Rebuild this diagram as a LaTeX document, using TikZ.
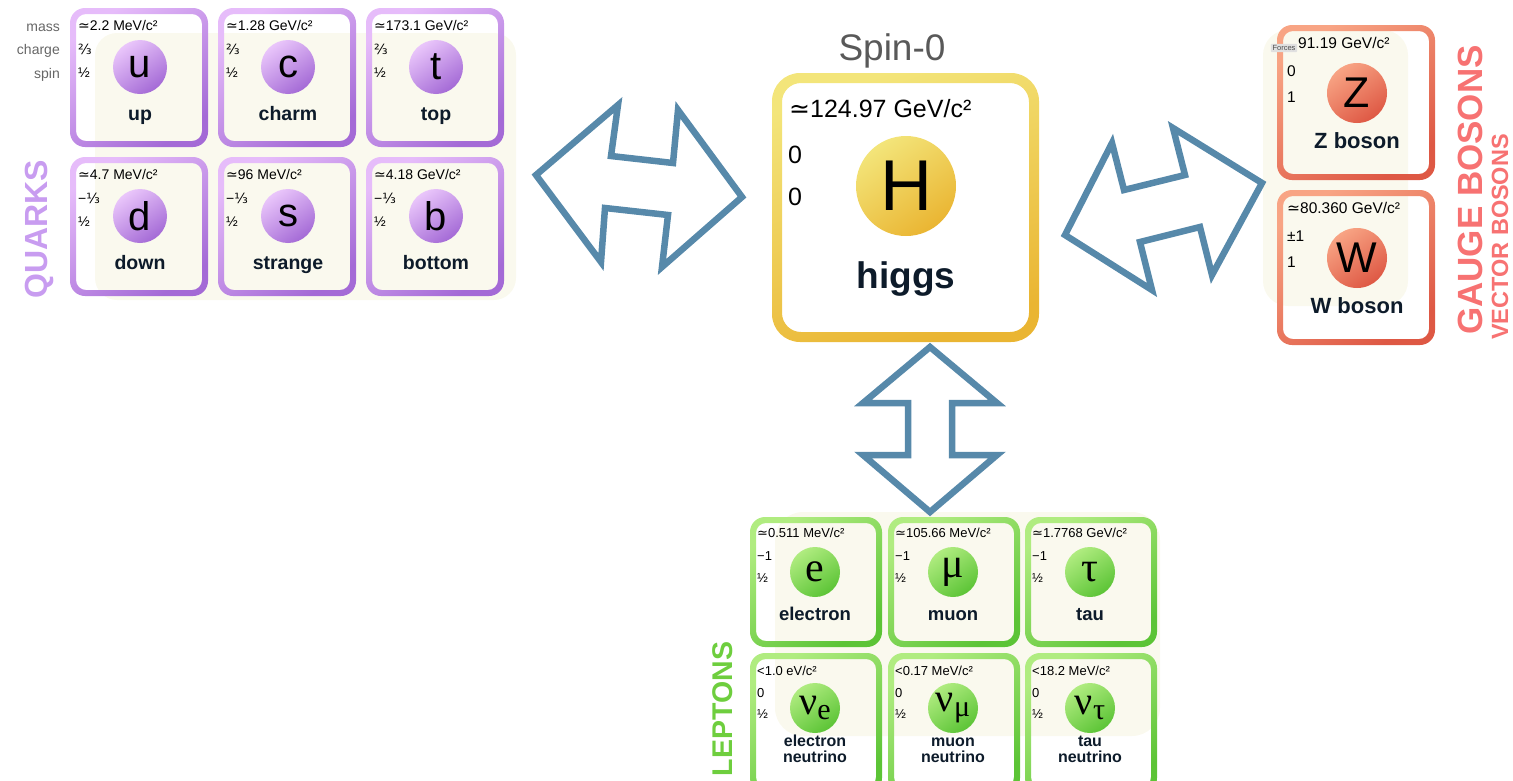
\documentclass[tikz,border=0pt]{standalone}
\usepackage{fontspec}
\setmainfont{Liberation Sans}
\newfontfamily\grk{Liberation Serif}
\newfontfamily\djv{DejaVu Sans}
\newcommand\fsz[1]{\fontsize{#1}{#1}\selectfont}
\newcommand\approxs{{\djv ≃}}
\newcommand\twothirds{{\djv ⅔}}
\newcommand\onethird{{\djv ⅓}}

\definecolor{ink}{HTML}{0D1B2A}
\definecolor{cream}{HTML}{FAF9EE}
\definecolor{qA}{HTML}{E6BCFA}\definecolor{qB}{HTML}{A46AD6}
\definecolor{qtxt}{HTML}{C89CF0}
\definecolor{hA}{HTML}{F3E57A}\definecolor{hB}{HTML}{EAB532}
\definecolor{gA}{HTML}{F8A484}\definecolor{gB}{HTML}{DE5844}
\definecolor{gtxt}{HTML}{F77272}
\definecolor{lA}{HTML}{B0EC80}\definecolor{lB}{HTML}{5CC436}
\definecolor{ltxt}{HTML}{6ECE3E}
\definecolor{arrowblue}{HTML}{5789AA}
\definecolor{lbl}{HTML}{666666}

\tikzset{
  qring/.style={even odd rule, top color=qA, bottom color=qB, shading angle=35},
  hring/.style={even odd rule, top color=hA, bottom color=hB, shading angle=20},
  gring/.style={even odd rule, top color=gA, bottom color=gB, shading angle=35},
  lring/.style={even odd rule, top color=lA, bottom color=lB, shading angle=35},
  qball/.style={top color=qA!85!white, bottom color=qB, shading angle=35},
  hball/.style={top color=hA, bottom color=hB, shading angle=35},
  gball/.style={top color=gA, bottom color=gB, shading angle=35},
  lball/.style={top color=lA, bottom color=lB, shading angle=35},
  prop/.style={anchor=base west, inner sep=0, text=black},
  qprop/.style={prop, font=\fsz{14}},
  lprop/.style={prop, font=\fsz{13}},
  qsym/.style={inner sep=0, font=\fsz{40}},
  lsym/.style={inner sep=0, font=\grk\fsz{42}},
  pname/.style={anchor=base, inner sep=0, text=ink, font=\bfseries\fsz{19.5}},
  rowlbl/.style={anchor=base east, inner sep=0, text=lbl, font=\fsz{14}},
  bigarrow/.style={draw=arrowblue, line width=6.5pt, fill=white, line join=miter},
  grouplbl/.style={rotate=90, inner sep=0, font=\bfseries},
}

% quark card: name, x0, y0, mass, charge, spin, symbol, label
\newcommand\qcard[8]{%
  \shade[qring] (#2,#3) [rounded corners=15pt] rectangle ++(138,139)
        ({#2+6},{#3+6}) [rounded corners=10pt] rectangle ++(126,127);
  \shade[qball] ({#2+70},{#3+59}) circle (27pt);
  \node[qsym] (#1sym) at ({#2+70},{#3+59}) {#7};
  \node[qprop] (#1mass) at ({#2+8},{#3+22}) {#4};
  \node[qprop] (#1chg) at ({#2+8},{#3+46}) {#5};
  \node[qprop] (#1spin) at ({#2+8},{#3+69}) {#6};
  \node[pname] (#1name) at ({#2+70},{#3+112}) {#8};
}

% charged lepton card: name, x0, y0, mass, charge, spin, symbol, label
\newcommand\lcard[8]{%
  \shade[lring] (#2,#3) [rounded corners=15pt] rectangle ++(132,130)
        ({#2+6},{#3+6}) [rounded corners=10pt] rectangle ++(120,118);
  \shade[lball] ({#2+65},{#3+55}) circle (25pt);
  \node[lsym] (#1sym) at ({#2+65},{#3+55}) {#7};
  \node[lprop] (#1mass) at ({#2+7},{#3+20}) {#4};
  \node[lprop] (#1chg) at ({#2+7},{#3+43}) {#5};
  \node[lprop] (#1spin) at ({#2+7},{#3+65}) {#6};
  \node[pname, font=\bfseries\fsz{18.5}] (#1name) at ({#2+65},{#3+103}) {#8};
}

% neutrino card: name, x0, y0, mass, subscript, first label line, second label line
\newcommand\ncard[7]{%
  \shade[lring] (#2,#3) [rounded corners=15pt] rectangle ++(132,140)
        ({#2+6},{#3+6}) [rounded corners=10pt] rectangle ++(120,128);
  \shade[lball] ({#2+65},{#3+55}) circle (25pt);
  \node[lsym, font=\grk\fsz{40}] (#1sym) at ({#2+65},{#3+55}) {ν\raisebox{-5pt}{\fsz{30}#5}};
  \node[lprop] (#1mass) at ({#2+7},{#3+22}) {#4};
  \node[lprop] (#1chg) at ({#2+7},{#3+44}) {0};
  \node[lprop] (#1spin) at ({#2+7},{#3+65}) {½};
  \node[pname, font=\bfseries\fsz{16}] (#1nameA) at ({#2+65},{#3+93}) {#6};
  \node[pname, font=\bfseries\fsz{16}] (#1nameB) at ({#2+65},{#3+109}) {#7};
}

% gauge boson card: name, y0, mass x, mass, charge, symbol, label
\newcommand\gcard[7]{%
  \shade[gring] (1277,#2) [rounded corners=15pt] rectangle ++(158,155)
        (1283,{#2+6}) [rounded corners=10pt] rectangle ++(146,143);
  \shade[gball] (1357,{#2+68}) circle (30pt);
  \node[qsym, font=\fsz{43}] (#1sym) at (1357,{#2+68}) {#6};
  \node[prop, font=\fsz{15.5}] (#1mass) at (#3,{#2+23}) {#4};
  \node[prop, font=\fsz{15.5}] (#1chg) at (1287,{#2+51}) {#5};
  \node[prop, font=\fsz{15.5}] (#1spin) at (1287,{#2+77}) {1};
  \node[pname, font=\bfseries\fsz{22}] (#1name) at (1357,{#2+123}) {#7};
}

\begin{document}
\begin{tikzpicture}[x=1pt, y=-1pt]
\useasboundingbox (0,0) rectangle (1513,780);

% pale panels behind the card groups
\fill[cream] (95,33) [rounded corners=22pt] rectangle (516,300);
\fill[cream] (775,512) [rounded corners=28pt] rectangle (1160,736);
\fill[cream] (1263,30) [rounded corners=25pt] rectangle (1408,306);

% quarks
\node[rowlbl] (lmass) at (60,31) {mass};
\node[rowlbl] (lcharge) at (60,54) {charge};
\node[rowlbl] (lspin) at (60,78) {spin};
\qcard{up}{70}{8}{\approxs2.2 MeV/c²}{\twothirds}{½}{u}{up}
\qcard{charm}{218}{8}{\approxs1.28 GeV/c²}{\twothirds}{½}{c}{charm}
\qcard{top}{366}{8}{\approxs173.1 GeV/c²}{\twothirds}{½}{t}{top}
\qcard{down}{70}{157}{\approxs4.7 MeV/c²}{−\onethird}{½}{d}{down}
\qcard{strange}{218}{157}{\approxs96 MeV/c²}{−\onethird}{½}{s}{strange}
\qcard{bottom}{366}{157}{\approxs4.18 GeV/c²}{−\onethird}{½}{b}{bottom}
\node[grouplbl, text=qtxt, font=\bfseries\fsz{32}] (quarks) at (39,229) {QUARKS};

% higgs
\node[inner sep=0, text=black!65, font=\fsz{37}, anchor=base] (spin0) at (892,60) {Spin-0};
\shade[hring] (772,73) [rounded corners=28pt] rectangle (1039,342)
      (782,83) [rounded corners=19pt] rectangle (1029,332);
\shade[hball] (906,186) circle (50pt);
\node[inner sep=0, font=\fsz{72}] (hsym) at (906,186) {H};
\node[prop, font=\fsz{25}] (hmass) at (789,117) {\approxs124.97 GeV/c²};
\node[prop, font=\fsz{25}] (hchg) at (788,163) {0};
\node[prop, font=\fsz{25}] (hspin) at (788,205) {0};
\node[pname, font=\bfseries\fsz{37}] (hname) at (906,288) {higgs};

% gauge bosons
\gcard{Z}{25}{1298}{91.19 GeV/c²}{0}{Z}{Z boson}
\gcard{W}{190}{1287}{\approxs80.360 GeV/c²}{±1}{W}{W boson}
\node[inner sep=1.6pt, fill=black!12, rounded corners=1pt, text=black!70, font=\fsz{7.5}] (forces) at (1284,48) {Forces};
\node[grouplbl, text=gtxt, font=\bfseries\fsz{35}] (gauge) at (1470,190) {GAUGE BOSONS};
\node[grouplbl, text=gtxt, font=\bfseries\fsz{23.5}] (vector) at (1500,237) {VECTOR BOSONS};

% leptons
\lcard{e}{750}{517}{\approxs0.511 MeV/c²}{−1}{½}{e}{electron}
\lcard{mu}{888}{517}{\approxs105.66 MeV/c²}{−1}{½}{μ}{muon}
\lcard{tau}{1025}{517}{\approxs1.7768 GeV/c²}{−1}{½}{τ}{tau}
\ncard{ve}{750}{653}{<1.0 eV/c²}{e}{electron}{neutrino}
\ncard{vmu}{888}{653}{<0.17 MeV/c²}{μ}{muon}{neutrino}
\ncard{vtau}{1025}{653}{<18.2 MeV/c²}{τ}{tau}{neutrino}
\node[grouplbl, text=ltxt, font=\bfseries\fsz{28.5}] (leptons) at (723,709) {LEPTONS};

% double arrows linking the higgs to each group
\draw[bigarrow] (536,175) -- (618,105) -- (611,156) -- (673,163) -- (678,110)
  -- (742,197) -- (662,267) -- (668,215) -- (605,208) -- (601,262) -- cycle;
\draw[bigarrow] (1065,235) -- (1112,143) -- (1124,190) -- (1185,175) -- (1173,128)
  -- (1262,183) -- (1212,275) -- (1200,227) -- (1140,242) -- (1152,290) -- cycle;
\draw[bigarrow] (930,347) -- (997,403) -- (952,403) -- (952,455) -- (997,455)
  -- (930,512) -- (863,455) -- (908,455) -- (908,403) -- (863,403) -- cycle;
\end{tikzpicture}
\end{document}
